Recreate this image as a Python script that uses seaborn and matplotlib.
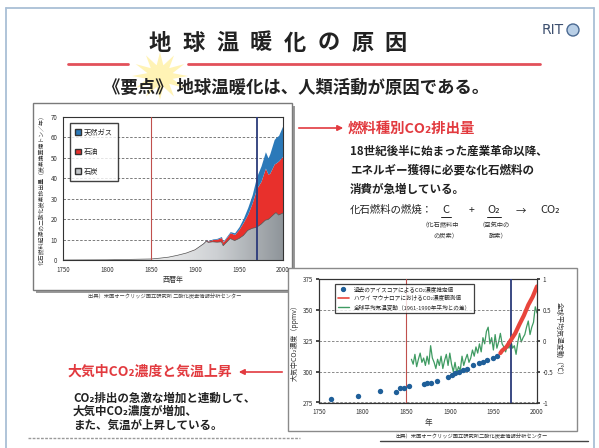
import numpy as np
import matplotlib
matplotlib.use("Agg")
import matplotlib.pyplot as plt
import seaborn as sns
from matplotlib.patches import Patch, Rectangle, Polygon, FancyArrowPatch, Ellipse
from matplotlib.lines import Line2D
from matplotlib.colors import LinearSegmentedColormap

# ---------------- data ----------------
fuel_years = [1750, 1800, 1850, 1860, 1870, 1880, 1890, 1900, 1905, 1910, 1913, 1915, 1920, 1925,
              1930, 1932, 1935, 1940, 1945, 1950, 1955, 1960, 1965, 1970, 1975, 1980, 1983, 1985,
              1990, 1992, 1995, 2000]
coal = [0, 0.1, 0.5, 0.9, 1.4, 2.3, 3.4, 5.0, 6.5, 8.0, 9.3, 8.6, 8.9, 8.7,
        8.9, 7.0, 8.3, 10.5, 9.5, 10.5, 12.0, 14.5, 15.5, 16.0, 17.5, 19.5, 19.8, 20.5,
        22.5, 23.2, 22.0, 23.0]
oil = [0, 0, 0, 0, 0, 0, 0.1, 0.3, 0.3, 0.4, 0.6, 0.6, 1.1, 1.5,
       2.1, 1.8, 2.2, 2.8, 3.0, 4.5, 6.5, 8.0, 12.5, 19.0, 21.0, 25.5, 22.2, 22.0,
       24.5, 24.3, 26.5, 28.0]
gas = [0, 0, 0, 0, 0, 0, 0, 0, 0.1, 0.2, 0.2, 0.2, 0.3, 0.4,
       0.5, 0.4, 0.5, 0.6, 0.8, 1.3, 2.0, 3.3, 4.0, 5.8, 7.5, 8.0, 8.0, 9.5,
       12.0, 12.5, 12.5, 15.0]
fuel_labels = ["天然ガス", "石油", "石炭"]

ice_years = [1764, 1795, 1820, 1838, 1843, 1848, 1853, 1870, 1874, 1878, 1885, 1898, 1902,
             1906, 1910, 1915, 1920, 1927, 1933, 1938, 1943, 1950, 1954]
ice_ppm = [277.5, 280.0, 284.0, 283.5, 286.5, 287.0, 288.0, 290.0, 291.0, 291.0, 292.5, 296.0,
           297.0, 298.5, 300.0, 301.0, 302.0, 305.5, 307.0, 308.0, 309.5, 311.0, 313.0]

ml_years = [1958, 1960, 1965, 1970, 1975, 1980, 1985, 1990, 1995, 2000]
ml_ppm = [315.0, 317.0, 320.0, 325.5, 331.0, 338.5, 345.5, 354.0, 360.5, 369.0]

temp_years = list(range(1856, 2001, 2))
temp_anom = [-0.30, -0.38, -0.22, -0.42, -0.30, -0.20, -0.35, -0.28, -0.40, -0.25, -0.38,
             -0.08, -0.28, -0.35, -0.45, -0.30, -0.40, -0.25, -0.45, -0.32, -0.22, -0.40,
             -0.20, -0.38, -0.50, -0.35, -0.52, -0.42, -0.48, -0.25, -0.40, -0.30, -0.22,
             -0.35, -0.28, -0.15, -0.25, -0.10, -0.20, -0.05, -0.18, 0.05, -0.05, 0.15,
             0.22, -0.05, 0.05, -0.15, 0.10, -0.12, -0.02, 0.12, -0.05, -0.10, -0.18,
             -0.08, -0.12, 0.00, -0.12, -0.08, -0.22, -0.02, 0.12, -0.02, 0.05, 0.10,
             0.22, 0.32, 0.10, 0.22, 0.30, 0.55, 0.45]

left_xticks = [1750, 1800, 1850, 1900, 1950, 2000]
left_yticks = [0, 10, 20, 30, 40, 50, 60, 70]
right_yticks = [275, 300, 325, 350, 375]
temp_ticks = [-1, -0.5, 0, 0.5, 1]
temp_ticklabels = ["-1", "-0.5", "0", "0.5", "1"]

# ---------------- setup ----------------
W, H = 599, 448
sns.set_theme(style="white")
plt.rcParams['font.family'] = ['Noto Sans CJK JP', 'DejaVu Sans']
plt.rcParams['axes.unicode_minus'] = False


def fx(x):
    return x / W


def fy(y):
    return 1 - y / H


def box(x0, y0, x1, y1):
    return [fx(x0), fy(y1), (x1 - x0) / W, (y1 - y0) / H]


fig = plt.figure(figsize=(W / 100, H / 100), dpi=100)
fig.patch.set_facecolor('white')
TF = fig.transFigure
RED = '#e23a3f'
DARK = '#222222'

# slide frame
for (xa, ya, xb, yb) in [(6, 8, 6, 448), (6, 8, 594, 8), (594, 8, 594, 448)]:
    fig.add_artist(Line2D([fx(xa), fx(xb)], [fy(ya), fy(yb)], color='#a9bfd6', lw=1.3, transform=TF))

# yellow burst
cx, cy = 160, 76
pts = []
for k in range(24):
    r = 28 if k % 2 == 0 else 13
    a = np.pi * k / 12
    pts.append((fx(cx + r * np.cos(a)), fy(cy + r * 0.85 * np.sin(a))))
fig.add_artist(Polygon(pts, closed=True, facecolor='#fff1a8', edgecolor='none', alpha=0.85,
                       transform=TF, zorder=0.5))

# title
title_chars = "地球温暖化の原因"
for i, ch in enumerate(title_chars):
    fig.text(fx(160 + 33.7 * i), fy(43), ch, ha='center', va='center', fontsize=16,
             fontweight='bold', color=DARK)
fig.add_artist(Line2D([fx(68), fx(128)], [fy(64), fy(64)], color='#e2505a', lw=2.0, transform=TF))
fig.add_artist(Line2D([fx(188), fx(540)], [fy(64), fy(64)], color='#e2505a', lw=2.0, transform=TF))

# logo
fig.text(fx(542), fy(30), "RIT", ha='left', va='center', fontsize=10, color='#3d4f6e',
         family=['DejaVu Sans'])
fig.add_artist(Ellipse((fx(573), fy(30)), 12 / W, 12 / H, facecolor='#b9cfe6', edgecolor='#4b6a92',
                       lw=1.0, transform=TF))

# subtitle
fig.text(fx(103), fy(88), "《要点》 地球温暖化は、人類活動が原因である。", ha='left', va='center',
         fontsize=12.5, color=DARK, fontweight='bold')

# ---------------- left chart ----------------
fig.add_artist(Rectangle((fx(36), fy(293)), 259 / W, 187 / H, facecolor='#9a9a9a', edgecolor='none',
                         transform=TF, zorder=-2))
fig.add_artist(Rectangle((fx(33), fy(290)), 259 / W, 187 / H, facecolor='white', edgecolor='#7a7a7a',
                         lw=1.0, transform=TF, zorder=-1))

axL = fig.add_axes(box(63, 117, 283, 260))
axL.set_facecolor('white')
polys = axL.stackplot(fuel_years, coal, oil, gas, colors=['#c3c6c9', '#e8302c', '#2b79b9'],
                      linewidth=0, zorder=2)
grad = np.linspace(0, 1, 256).reshape(1, -1)
cmap_g = LinearSegmentedColormap.from_list('g', ['#f2f2f2', '#cdd0d3', '#8f959a'])
im = axL.imshow(grad, extent=[1850, 2000, 0, 30], aspect='auto', cmap=cmap_g, origin='lower', zorder=2.5)
im.set_clip_path(polys[0].get_paths()[0], transform=axL.transData)
sns.lineplot(x=fuel_years, y=coal, ax=axL, color='#555555', lw=0.5, zorder=3)
axL.set_xlim(1750, 2000)
axL.set_ylim(0, 70)
axL.set_xticks(left_xticks)
axL.set_yticks(left_yticks)
axL.yaxis.grid(True, linestyle=(0, (3, 2)), color='#666666', lw=0.6)
axL.set_axisbelow(True)
axL.axvline(1850, color='#c0504d', lw=0.8, zorder=4)
axL.axvline(1970, color='#2b3a7a', lw=1.3, zorder=4)
axL.tick_params(labelsize=4.5, colors='#333333', length=2, direction='out', pad=2)
for s in axL.spines.values():
    s.set_color('#333333')
    s.set_linewidth(0.8)
axL.set_xlabel("西暦年", fontsize=5, color='#333333', labelpad=2)
axL.set_ylabel("化石燃料起源の二酸化炭素排出量（炭素換算億トン／年）", fontsize=4.2, color='#333333',
               labelpad=4)
handles = [Patch(facecolor='#2b79b9', edgecolor='#333'), Patch(facecolor='#e8302c', edgecolor='#333'),
           Patch(facecolor='#c3c6c9', edgecolor='#333')]
legL = axL.legend(handles, fuel_labels, loc='upper left', bbox_to_anchor=(0.015, 0.98),
                  fontsize=5.2, frameon=True, fancybox=False, edgecolor='#111111', labelspacing=1.6,
                  handlelength=0.8, handleheight=0.8, handletextpad=0.4, borderpad=0.7)
legL.get_frame().set_linewidth(1.0)
fig.text(fx(165), fy(297), "出典）米国オークリッジ国立研究所 二酸化炭素情報分析センター", ha='center', va='center',
         fontsize=3.8, color='#444444')

# ---------------- top-right text ----------------
fig.add_artist(FancyArrowPatch((fx(296), fy(128)), (fx(346), fy(128)), arrowstyle='-|>', mutation_scale=8,
                               color=RED, lw=1.2, transform=TF))
fig.text(fx(348), fy(129), "燃料種別CO₂排出量", ha='left', va='center', fontsize=10.4, color=RED,
         fontweight='bold')
body = ["18世紀後半に始まった産業革命以降、", "エネルギー獲得に必要な化石燃料の", "消費が急増している。"]
for i, line in enumerate(body):
    fig.text(fx(350), fy(151 + 19 * i), line, ha='left', va='center', fontsize=8.3, color=DARK,
             fontweight='bold')
fig.text(fx(350), fy(210), "化石燃料の燃焼：", ha='left', va='center', fontsize=7.5, color=DARK)
fig.text(fx(446), fy(210), "C", ha='center', va='center', fontsize=8, color=DARK)
fig.text(fx(471), fy(210), "+", ha='center', va='center', fontsize=7.5, color=DARK)
fig.text(fx(494), fy(210), "O₂", ha='center', va='center', fontsize=8, color=DARK)
fig.text(fx(521), fy(210), "→", ha='center', va='center', fontsize=7.5, color=DARK)
fig.text(fx(550), fy(210), "CO₂", ha='center', va='center', fontsize=8, color=DARK)
fig.add_artist(Line2D([fx(441), fx(451)], [fy(217), fy(217)], color=DARK, lw=0.7, transform=TF))
fig.add_artist(Line2D([fx(487), fx(501)], [fy(217), fy(217)], color=DARK, lw=0.7, transform=TF))
fig.text(fx(440), fy(225), "（化石燃料中", ha='center', va='center', fontsize=4.5, color='#333333')
fig.text(fx(446), fy(235), "の炭素）", ha='center', va='center', fontsize=4.5, color='#333333')
fig.text(fx(494), fy(225), "（空気中の", ha='center', va='center', fontsize=4.5, color='#333333')
fig.text(fx(498), fy(235), "酸素）", ha='center', va='center', fontsize=4.5, color='#333333')

# ---------------- bottom-left text ----------------
fig.add_artist(FancyArrowPatch((fx(285), fy(372)), (fx(236), fy(372)), arrowstyle='-|>', mutation_scale=8,
                               color=RED, lw=1.2, transform=TF))
fig.text(fx(68), fy(372), "大気中CO₂濃度と気温上昇", ha='left', va='center', fontsize=10, color=RED,
         fontweight='bold')
body2 = ["CO₂排出の急激な増加と連動して、", "大気中CO₂濃度が増加、", "また、気温が上昇している。"]
for i, line in enumerate(body2):
    fig.text(fx(73), fy(398 + 13.5 * i), line, ha='left', va='center', fontsize=8.3, color=DARK,
             fontweight='bold')
fig.add_artist(Line2D([fx(28), fx(300)], [fy(438), fy(438)], color='#9a9a9a', lw=1.0, ls=(0, (2, 1)),
                      transform=TF))

# ---------------- right chart ----------------
fig.add_artist(Rectangle((fx(288), fy(431)), 289 / W, 163 / H, facecolor='white', edgecolor='#8a8a8a',
                         lw=1.0, transform=TF, zorder=-1))
axR = fig.add_axes(box(319, 279, 537, 402.5))
axT = axR.twinx()
axR.set_zorder(3)
axT.set_zorder(2)
axR.patch.set_visible(False)

sns.lineplot(x=temp_years, y=temp_anom, ax=axT, color='#3f9b62', lw=0.9)
axT.set_ylim(-1, 1)
axT.set_yticks(temp_ticks)
axT.set_yticklabels(temp_ticklabels)

sns.scatterplot(x=ice_years, y=ice_ppm, ax=axR, color='#1f5f99', s=15, linewidth=0, zorder=4)
sns.lineplot(x=ml_years, y=ml_ppm, ax=axR, color='#e8453c', lw=3.0, zorder=5)
axR.set_xlim(1750, 2000)
axR.set_ylim(275, 375)
axR.set_xticks(left_xticks)
axR.set_yticks(right_yticks)
axR.yaxis.grid(True, linestyle=(0, (3, 2)), color='#777777', lw=0.6)
axR.axvline(1850, color='#c0504d', lw=0.8, zorder=3)
axR.axvline(1970, color='#2b3a7a', lw=1.3, zorder=3)
for a in (axR, axT):
    a.tick_params(labelsize=4.5, colors='#333333', length=2, direction='out', pad=2)
    for s in a.spines.values():
        s.set_color('#333333')
        s.set_linewidth(0.8)
axR.set_xlabel("年", fontsize=5.5, color='#333333', labelpad=2)
axR.set_ylabel("大気中CO₂濃度（ppmv）", fontsize=5, color='#333333', labelpad=3)
axT.set_ylabel("全球平均気温変動（℃）", fontsize=5, color='#333333', rotation=270, labelpad=7)
hR = [Line2D([], [], marker='o', ls='', color='#1f5f99', ms=2.8),
      Line2D([], [], color='#e8453c', lw=1.2),
      Line2D([], [], color='#3f9b62', lw=1.0)]
legR = axR.legend(hR, ["過去のアイスコアによるCO₂濃度推定値", "ハワイ マウナロアにおけるCO₂濃度観測値",
                       "全球平均気温変動（1961-1990年平均との差）"],
                  loc='upper left', bbox_to_anchor=(0.06, 0.985), fontsize=4.1, frameon=True,
                  fancybox=False, edgecolor='#111111', handlelength=2.0, labelspacing=0.5, borderpad=0.5)
legR.get_frame().set_linewidth(0.9)
fig.text(fx(472), fy(437), "出典）米国オークリッジ国立研究所二酸化炭素情報分析センター", ha='center', va='center',
         fontsize=3.8, color='#333333')
fig.add_artist(Line2D([fx(380), fx(588)], [fy(441), fy(441)], color='#444444', lw=1.0, transform=TF))

fig.savefig("out.png", dpi=100, facecolor='white')
